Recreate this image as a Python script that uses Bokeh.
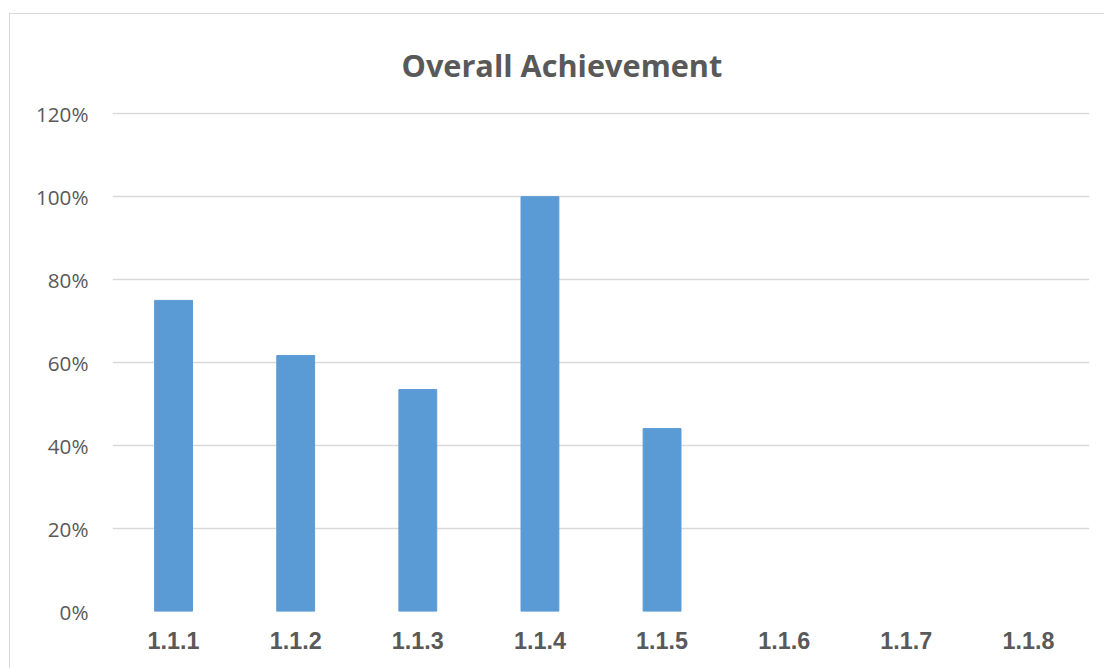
from bokeh.plotting import figure
from bokeh.models import ColumnDataSource, FactorRange, Range1d, NumeralTickFormatter, FixedTicker
from bokeh.embed import file_html
from bokeh.resources import INLINE

categories = ["1.1.1", "1.1.2", "1.1.3", "1.1.4", "1.1.5", "1.1.6", "1.1.7", "1.1.8"]
cat_with_data = ["1.1.1", "1.1.2", "1.1.3", "1.1.4", "1.1.5"]
achievement = [0.75, 0.617, 0.535, 1.00, 0.441]
y_ticks = [0, 0.2, 0.4, 0.6, 0.8, 1.0, 1.2]

src = ColumnDataSource(dict(cat=cat_with_data, val=achievement))

p = figure(x_range=FactorRange(*categories, range_padding=0), y_range=Range1d(0, 1.203),
           width=1095, height=655, output_backend="svg", toolbar_location=None,
           min_border_left=102, min_border_right=16, min_border_top=97, min_border_bottom=58)
p.title.text = "Overall Achievement"
p.title.align = "left"
p.title.offset = 289
p.title.text_font = "Open Sans"
p.title.text_font_size = "23pt"
p.title.text_font_style = "bold"
p.title.text_color = "#595959"
p.title.standoff = 54

p.vbar(x="cat", top="val", width=0.31, source=src, color="#5b9bd5", line_color="#5b9bd5")

p.outline_line_color = None
p.xgrid.grid_line_color = None
p.ygrid.grid_line_color = "#d9d9d9"
p.ygrid.grid_line_width = 1.3
p.yaxis.ticker = FixedTicker(ticks=y_ticks)
p.yaxis.formatter = NumeralTickFormatter(format="0%")
p.yaxis.axis_line_color = None
p.yaxis.major_tick_line_color = None
p.yaxis.minor_tick_line_color = None
p.yaxis.major_label_text_font = "Open Sans"
p.yaxis.major_label_text_font_size = "15.5pt"
p.yaxis.major_label_text_color = "#595959"
p.yaxis.major_label_standoff = 18

p.xaxis.axis_line_color = None
p.xaxis.major_tick_line_color = None
p.xaxis.minor_tick_line_color = None
p.xaxis.major_label_text_font = "Liberation Sans"
p.xaxis.major_label_text_font_style = "bold"
p.xaxis.major_label_text_font_size = "17.5pt"
p.xaxis.major_label_text_color = "#595959"
p.xaxis.major_label_standoff = 14

p.styles = {"border-left": "1.5px solid #d9d9d9", "border-top": "1.5px solid #d9d9d9",
            "margin-top": "13px", "margin-left": "9px"}

open("out.html", "w").write(file_html(p, INLINE))
